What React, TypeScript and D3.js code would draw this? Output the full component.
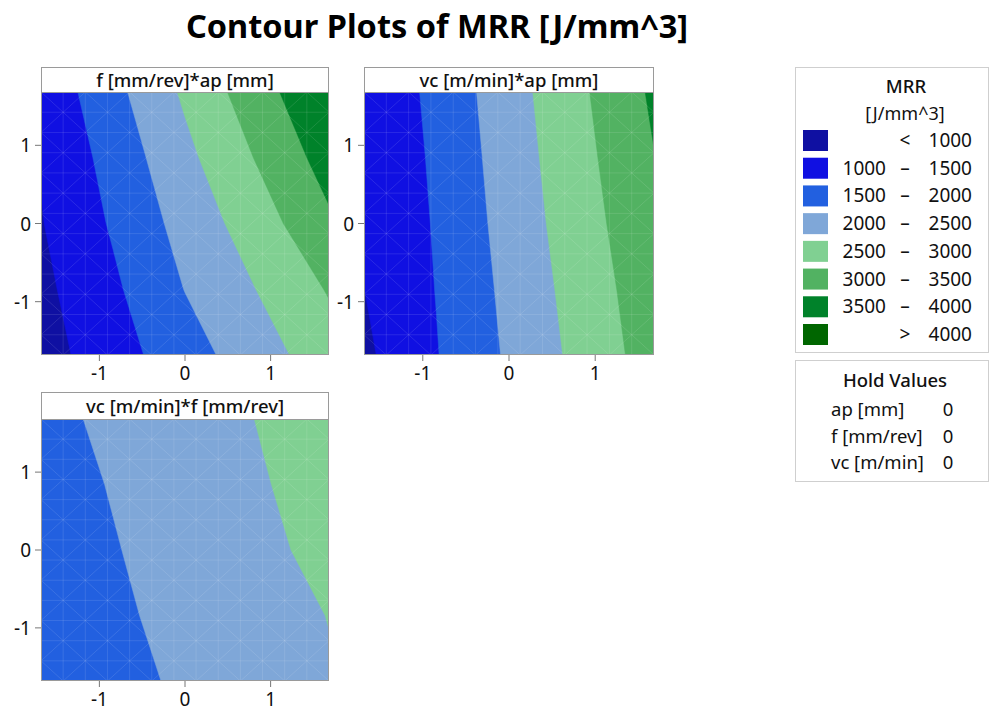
import React from "react";
import * as d3 from "d3";

// ---------- data ----------
const thresholds = [1000, 1500, 2000, 2500, 3000, 3500, 4000];
const bandColors = ["#0F10A2", "#1010E2", "#2260E0", "#7FA7D8", "#80D092", "#52B262", "#00822A", "#006600"];
const codedLevels = [-1.682, -0.841, 0, 0.841, 1.682];
const tickValues = [-1, 0, 1];

// rows: top (y = +1.682) to bottom (y = -1.682); columns: x = -1.682 .. +1.682
const gridFAp = [
  [1130, 1853, 2578, 3294, 3950],
  [1030, 1682, 2373, 3033, 3706],
  [975, 1555, 2180, 2758, 3420],
  [880, 1415, 2012, 2508, 3040],
  [794, 1288, 1786, 2280, 2767],
];
const gridVcAp = [
  [1040, 1640, 2292, 2926, 3580],
  [1030, 1585, 2242, 2858, 3486],
  [1015, 1545, 2187, 2796, 3383],
  [996, 1514, 2123, 2720, 3296],
  [903, 1479, 2069, 2651, 3227],
];
const gridVcF = [
  [1877, 2087, 2297, 2508, 2718],
  [1810, 2025, 2241, 2457, 2672],
  [1762, 1974, 2187, 2400, 2612],
  [1728, 1927, 2125, 2324, 2510],
  [1670, 1868, 2066, 2265, 2463],
];
const panelTitles = ["f [mm/rev]*ap [mm]", "vc [m/min]*ap [mm]", "vc [m/min]*f [mm/rev]"];
const holdNames = ["ap [mm]", "f [mm/rev]", "vc [m/min]"];
const holdValues = [0, 0, 0];

// ---------- layout ----------
const FONT = "'Noto Sans', 'Open Sans', sans-serif";
const panels = [
  { title: panelTitles[0], grid: gridFAp, x0: 41, x1: 329, y0: 92, y1: 355, hy: 67 },
  { title: panelTitles[1], grid: gridVcAp, x0: 364, x1: 654, y0: 92, y1: 355, hy: 67 },
  { title: panelTitles[2], grid: gridVcF, x0: 41, x1: 329, y0: 419, y1: 681, hy: 392 },
];

function Panel({ p, idx }: { p: any; idx: number }) {
  const n = codedLevels.length;
  const lo = codedLevels[0];
  const hi = codedLevels[n - 1];
  const xs = d3.scaleLinear().domain([lo, hi]).range([p.x0, p.x1]);
  const ys = d3.scaleLinear().domain([lo, hi]).range([p.y1, p.y0]);
  // grid-index space -> pixels (samples sit at i + 0.5)
  const gx = d3.scaleLinear().domain([0.5, n - 0.5]).range([xs(lo), xs(hi)]);
  const gy = d3.scaleLinear().domain([0.5, n - 0.5]).range([ys(hi), ys(lo)]);
  const values: number[] = [];
  p.grid.forEach((row: number[]) => row.forEach((v) => values.push(v)));
  const contours = d3.contours().size([n, n]).thresholds(thresholds)(values);
  const proj = d3.geoTransform({
    point(x: number, y: number) {
      (this as any).stream.point(gx(x), gy(y));
    },
  });
  const path = d3.geoPath(proj as any);
  const clipId = `clip${idx}`;
  const w = p.x1 - p.x0;
  const h = p.y1 - p.y0;
  // decorative mesh
  const mc = 13, mr = 13;
  const mesh: string[] = [];
  for (let i = 0; i <= mc; i++) {
    const x = p.x0 + (w * i) / mc;
    mesh.push(`M${x},${p.y0}V${p.y1}`);
  }
  for (let j = 0; j <= mr; j++) {
    const y = p.y0 + (h * j) / mr;
    mesh.push(`M${p.x0},${y}H${p.x1}`);
  }
  for (let i = 0; i < mc; i++) {
    for (let j = 0; j < mr; j++) {
      const xa = p.x0 + (w * i) / mc, xb = p.x0 + (w * (i + 1)) / mc;
      const ya = p.y0 + (h * j) / mr, yb = p.y0 + (h * (j + 1)) / mr;
      if ((i + j) % 2 === 0) mesh.push(`M${xa},${ya}L${xb},${yb}`);
      else mesh.push(`M${xa},${yb}L${xb},${ya}`);
    }
  }
  return (
    <g>
      <defs>
        <clipPath id={clipId}>
          <rect x={p.x0} y={p.y0} width={w} height={h} />
        </clipPath>
      </defs>
      <g clipPath={`url(#${clipId})`}>
        <rect x={p.x0} y={p.y0} width={w} height={h} fill={bandColors[0]} />
        {contours.map((c: any, i: number) => (
          <path key={i} d={path(c) || ""} fill={bandColors[i + 1]} stroke={bandColors[i + 1]} strokeWidth={0.5} />
        ))}
        <path d={mesh.join("")} stroke="#ffffff" strokeOpacity={0.16} strokeWidth={0.7} fill="none" />
      </g>
      <rect x={p.x0 + 0.5} y={p.y0 + 0.5} width={w - 1} height={h - 1} fill="none" stroke="#9a9a9a" strokeWidth={1} />
      {/* header */}
      <rect x={p.x0 + 0.5} y={p.hy + 0.5} width={w - 1} height={p.y0 - p.hy} fill="#fff" stroke="#9a9a9a" strokeWidth={1} />
      <text x={(p.x0 + p.x1) / 2} y={(p.hy + p.y0) / 2 + 7} textAnchor="middle" fontFamily={FONT} fontSize={18.5} fontWeight={500} fill="#111">
        {p.title}
      </text>
      {/* x axis */}
      {tickValues.map((t) => (
        <g key={"x" + t}>
          <line x1={xs(t)} x2={xs(t)} y1={p.y1} y2={p.y1 + 6} stroke="#777" />
          <text x={xs(t)} y={p.y1 + 25} textAnchor="middle" fontFamily={FONT} fontSize={19} fill="#111">
            {String(t)}
          </text>
        </g>
      ))}
      {tickValues.map((t) => (
        <g key={"y" + t}>
          <line x1={p.x0 - 6} x2={p.x0} y1={ys(t)} y2={ys(t)} stroke="#777" />
          <text x={p.x0 - 10} y={ys(t) + 7} textAnchor="end" fontFamily={FONT} fontSize={19} fill="#111">
            {String(t)}
          </text>
        </g>
      ))}
    </g>
  );
}

export default function App() {
  const rowY = d3.scaleLinear().domain([0, 7]).range([140, 334]);
  const legendRows = bandColors.map((c, i) => {
    let low = "", sep = "", high = "";
    if (i === 0) { sep = "<"; high = String(thresholds[0]); }
    else if (i === bandColors.length - 1) { sep = ">"; high = String(thresholds[thresholds.length - 1]); }
    else { low = String(thresholds[i - 1]); sep = "–"; high = String(thresholds[i]); }
    return { c, low, sep, high };
  });
  return (
    <svg width={989} height={711} style={{ position: "absolute", left: 0, top: 0, background: "#fff" }}>
      <rect x={0} y={0} width={989} height={711} fill="#fff" />
      <text x={437} y={38} textAnchor="middle" fontFamily={FONT} fontSize={32.5} fontWeight={700} fill="#000">
        Contour Plots of MRR [J/mm^3]
      </text>
      {panels.map((p, i) => (
        <Panel key={i} p={p} idx={i} />
      ))}
      {/* legend */}
      <rect x={795.5} y={67.5} width={193} height={285} fill="#fff" stroke="#cfcfcf" />
      <text x={906} y={93} textAnchor="middle" fontFamily={FONT} fontSize={18.5} fontWeight={500} fill="#111">MRR</text>
      <text x={905} y={120} textAnchor="middle" fontFamily={FONT} fontSize={18} fill="#111">[J/mm^3]</text>
      {legendRows.map((r, i) => (
        <g key={i}>
          <rect x={803} y={rowY(i) - 10} width={25} height={21} fill={r.c} />
          <text x={886} y={rowY(i) + 7} textAnchor="end" fontFamily={FONT} fontSize={19} fill="#111">{r.low}</text>
          <text x={905} y={rowY(i) + 7} textAnchor="middle" fontFamily={FONT} fontSize={19} fill="#111">{r.sep}</text>
          <text x={972} y={rowY(i) + 7} textAnchor="end" fontFamily={FONT} fontSize={19} fill="#111">{r.high}</text>
        </g>
      ))}
      <rect x={795.5} y={360.5} width={193} height={121} fill="#fff" stroke="#cfcfcf" />
      <text x={895} y={387} textAnchor="middle" fontFamily={FONT} fontSize={18.5} fontWeight={500} fill="#111">Hold Values</text>
      {holdNames.map((nm, i) => (
        <g key={nm}>
          <text x={831} y={416 + i * 26.5} fontFamily={FONT} fontSize={18.5} fill="#111">{nm}</text>
          <text x={948} y={416 + i * 26.5} textAnchor="middle" fontFamily={FONT} fontSize={18.5} fill="#111">{String(holdValues[i])}</text>
        </g>
      ))}
    </svg>
  );
}
